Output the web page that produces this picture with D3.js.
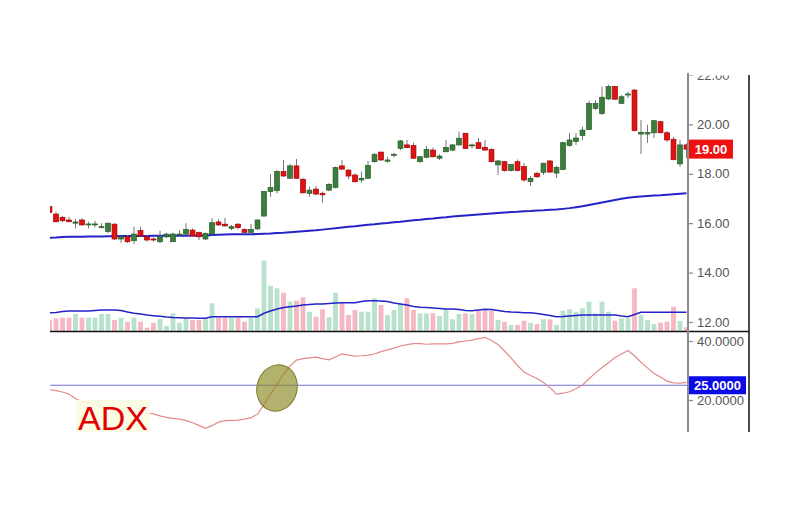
<!DOCTYPE html>
<html>
<head>
<meta charset="utf-8">
<script src="https://cdn.jsdelivr.net/npm/d3@7"></script>
<style>
  body { margin: 0; background: #fff; }
  svg { display: block; font-family: "Liberation Sans", Arial, sans-serif; }
</style>
</head>
<body>
<div id="chart"></div>
<script>
// daily candles (oldest first)
const opens = [16.67, 16.37, 16.24, 16.13, 16.00, 16.13, 15.94, 15.93, 15.83, 15.66,
    15.96, 15.36, 15.45, 15.29, 15.70, 15.45, 15.36, 15.25, 15.45, 15.25,
    15.52, 15.56, 15.72, 15.62, 15.36, 15.56, 16.05, 15.96, 15.79, 15.96,
    15.75, 15.63, 15.77, 16.29, 17.28, 17.32, 18.09, 17.82, 18.32, 17.78,
    17.21, 17.38, 17.21, 17.34, 17.45, 18.32, 18.15, 17.95, 17.75, 17.82,
    18.49, 18.88, 18.51, 18.76, 19.03, 19.17, 19.14, 18.49, 18.67, 18.96,
    18.63, 18.89, 18.96, 19.17, 19.64, 19.13, 19.26, 19.07, 18.99, 18.36,
    18.49, 18.13, 18.49, 18.29, 17.68, 18.02, 18.06, 18.52, 18.03, 18.18,
    19.15, 19.31, 19.55, 19.79, 20.65, 20.44, 21.03, 21.53, 20.85, 21.19,
    21.39, 19.61, 19.61, 19.66, 20.11, 19.66, 19.40, 18.40, 19.17];
const highs = [16.80, 16.47, 16.29, 16.26, 16.16, 16.20, 16.06, 16.10, 16.00, 16.02,
    16.00, 15.48, 15.52, 15.86, 15.86, 15.52, 15.43, 15.70, 15.62, 15.62,
    15.72, 16.00, 15.79, 15.66, 15.62, 16.20, 16.16, 16.21, 15.93, 16.00,
    15.79, 15.97, 16.16, 17.30, 17.99, 18.15, 18.56, 18.40, 18.60, 17.82,
    17.48, 17.51, 17.28, 17.62, 18.29, 18.56, 18.19, 18.02, 18.09, 18.52,
    18.83, 18.88, 18.69, 18.85, 19.37, 19.37, 19.26, 18.72, 19.13, 19.07,
    18.79, 19.37, 19.21, 19.70, 19.66, 19.23, 19.44, 19.37, 19.03, 18.56,
    18.52, 18.40, 18.58, 18.44, 17.91, 18.07, 18.44, 18.56, 18.32, 19.30,
    19.65, 19.65, 19.91, 20.96, 20.99, 21.53, 21.60, 21.55, 21.19, 21.32,
    21.43, 20.18, 19.98, 20.18, 20.14, 19.73, 19.49, 19.37, 19.23];
const lows = [16.37, 16.02, 16.04, 16.04, 15.79, 15.90, 15.79, 15.83, 15.79, 15.59,
    15.32, 15.21, 15.20, 15.16, 15.45, 15.25, 15.25, 15.19, 15.39, 15.25,
    15.48, 15.52, 15.45, 15.32, 15.32, 15.52, 15.89, 15.86, 15.72, 15.75,
    15.62, 15.62, 15.72, 16.26, 17.07, 17.21, 17.88, 17.79, 17.79, 17.21,
    17.07, 17.14, 16.83, 17.30, 17.41, 18.15, 17.78, 17.64, 17.64, 17.79,
    18.45, 18.52, 18.45, 18.67, 18.96, 19.04, 18.60, 18.45, 18.63, 18.67,
    18.56, 18.89, 18.92, 19.13, 19.00, 19.03, 19.00, 18.96, 18.47, 17.95,
    18.09, 18.09, 18.10, 17.67, 17.51, 17.83, 17.95, 18.05, 17.83, 18.15,
    19.09, 19.17, 19.37, 19.77, 20.58, 20.38, 20.99, 21.00, 20.83, 21.06,
    19.72, 18.80, 19.25, 19.45, 19.64, 19.29, 18.55, 18.28, 18.63];
const closes = [16.43, 16.06, 16.10, 16.06, 16.05, 15.93, 15.97, 15.97, 15.86, 16.00,
    15.36, 15.45, 15.25, 15.56, 15.48, 15.32, 15.32, 15.45, 15.56, 15.56,
    15.56, 15.75, 15.48, 15.45, 15.59, 16.02, 15.93, 15.89, 15.86, 15.82,
    15.63, 15.75, 16.13, 17.28, 17.44, 18.09, 17.91, 18.32, 17.82, 17.23,
    17.34, 17.18, 17.15, 17.57, 18.25, 18.19, 17.91, 17.68, 17.82, 18.33,
    18.79, 18.56, 18.56, 18.79, 19.33, 19.06, 18.63, 18.69, 18.99, 18.69,
    18.72, 19.07, 19.17, 19.44, 19.03, 19.17, 19.03, 18.96, 18.49, 18.52,
    18.13, 18.38, 18.13, 17.75, 17.82, 17.88, 18.43, 18.07, 18.26, 19.26,
    19.37, 19.45, 19.77, 20.85, 20.85, 21.10, 21.53, 21.02, 21.12, 21.23,
    19.75, 19.68, 19.68, 20.15, 19.66, 19.37, 18.57, 19.17, 19.00];

// long moving average of price
const priceMA = [15.41, 15.42, 15.44, 15.45, 15.45, 15.45, 15.46, 15.46, 15.46, 15.47,
    15.47, 15.48, 15.48, 15.48, 15.48, 15.48, 15.49, 15.49, 15.49, 15.49,
    15.49, 15.49, 15.50, 15.50, 15.50, 15.52, 15.53, 15.54, 15.55, 15.55,
    15.55, 15.55, 15.56, 15.57, 15.58, 15.60, 15.61, 15.63, 15.65, 15.67,
    15.69, 15.71, 15.74, 15.77, 15.80, 15.83, 15.86, 15.88, 15.91, 15.94,
    15.96, 15.99, 16.01, 16.04, 16.06, 16.09, 16.12, 16.14, 16.17, 16.19,
    16.22, 16.24, 16.27, 16.29, 16.31, 16.33, 16.35, 16.37, 16.39, 16.41,
    16.43, 16.45, 16.46, 16.48, 16.49, 16.51, 16.52, 16.54, 16.55, 16.58,
    16.61, 16.65, 16.69, 16.74, 16.79, 16.84, 16.89, 16.94, 16.99, 17.03,
    17.06, 17.08, 17.10, 17.12, 17.13, 17.15, 17.17, 17.19, 17.21];

// volume (thousands) and its moving average
const volumes = [575, 660, 690, 690, 875, 690, 690, 690, 875, 875,
    575, 690, 490, 690, 490, 190, 440, 625, 275, 910,
    440, 690, 575, 575, 660, 1410, 690, 690, 690, 690,
    490, 690, 1160, 3540, 2290, 2160, 1940, 1490, 1540, 1710,
    990, 740, 1110, 710, 1940, 1440, 825, 1075, 990, 990,
    1660, 1325, 825, 1075, 1375, 1660, 1075, 910, 910, 910,
    775, 1110, 610, 875, 910, 875, 1075, 1110, 1040, 575,
    490, 325, 325, 540, 440, 375, 610, 610, 325, 1040,
    1110, 990, 1160, 1490, 910, 1490, 990, 540, 660, 660,
    2160, 825, 575, 375, 440, 490, 1240, 525, 210];
const volumeMA = [940, 950, 1000, 1025, 1025, 1025, 1025, 1050, 1075, 1075,
    1075, 1050, 975, 910, 875, 825, 790, 760, 725, 700,
    690, 675, 675, 660, 660, 740, 740, 740, 740, 740,
    740, 740, 740, 910, 1025, 1125, 1200, 1240, 1275, 1325,
    1350, 1375, 1375, 1400, 1425, 1440, 1440, 1440, 1500, 1540,
    1540, 1525, 1500, 1425, 1375, 1325, 1250, 1210, 1200, 1175,
    1150, 1125, 1125, 1100, 1050, 1040, 1075, 1110, 1100, 1050,
    1000, 975, 960, 940, 940, 900, 850, 800, 740, 750,
    775, 800, 825, 825, 825, 825, 825, 825, 775, 740,
    850, 960, 960, 960, 960, 960, 960, 960, 960];

// ADX indicator
const adx = [23.5, 23.2, 22.7, 22.0, 20.4, 19.5, 18.9, 18.3, 17.8, 17.3,
    16.9, 16.6, 16.3, 16.0, 15.8, 15.6, 15.3, 14.6, 14.1, 13.8,
    13.5, 13.0, 12.3, 11.4, 10.4, 11.3, 12.5, 13.0, 13.1, 13.2,
    13.5, 14.0, 15.2, 18.5, 22.0, 25.2, 28.8, 31.5, 33.5, 34.0,
    34.3, 34.5, 34.0, 33.6, 34.6, 35.6, 35.2, 34.9, 35.0, 35.2,
    35.6, 36.4, 37.0, 37.6, 38.3, 38.8, 39.1, 39.1, 38.9, 39.0,
    39.0, 39.0, 39.2, 39.7, 40.0, 40.3, 40.8, 41.2, 40.2, 38.8,
    36.6, 34.3, 31.7, 29.5, 28.3, 27.3, 25.9, 24.2, 22.0, 22.3,
    22.8, 23.8, 25.1, 27.2, 29.2, 31.0, 32.6, 34.4, 35.6, 36.8,
    35.0, 32.8, 30.9, 29.0, 27.8, 26.4, 25.8, 25.7, 26.0];

const priceTicks = [12, 14, 16, 18, 20, 22];
const adxTicks = [20, 40];
const adxLevel = 25;

const width = 800, height = 507;
const plot = { left: 50, right: 688, top: 73, split: 331.5, bottom: 432, frame: 749 };

const svg = d3.select("#chart").append("svg")
    .attr("width", width)
    .attr("height", height);

const defs = svg.append("defs");
defs.append("clipPath").attr("id", "clipPrice").append("rect")
    .attr("x", plot.left).attr("y", plot.top)
    .attr("width", plot.right + 1 - plot.left).attr("height", plot.split - plot.top);
defs.append("clipPath").attr("id", "clipAdx").append("rect")
    .attr("x", plot.left).attr("y", plot.split)
    .attr("width", plot.right - plot.left).attr("height", plot.bottom - plot.split);
// the screenshot cuts the top tick label in half
defs.append("clipPath").attr("id", "clipAxis").append("rect")
    .attr("x", plot.right - 2).attr("y", 75.5)
    .attr("width", 70).attr("height", plot.bottom - 75.5);

const idx = d3.range(closes.length);
const x = d3.scaleBand()
    .domain(idx)
    .range([46.25, 689.75])
    .paddingInner(0.25)
    .paddingOuter(0.125);
const cx = i => x(i) + x.bandwidth() / 2;

const y = d3.scaleLinear().domain([12, 22]).range([322, 75]);
const yVol = d3.scaleLinear().domain([0, 4000]).range([plot.split, plot.split - 80]);
const yAdx = d3.scaleLinear().domain([20, 40]).range([400, 341]);

const up = i => closes[i] >= opens[i];

// price panel
const pricePanel = svg.append("g").attr("clip-path", "url(#clipPrice)");

pricePanel.selectAll(".vol")
    .data(idx)
    .enter().append("rect")
    .attr("class", "vol")
    .attr("x", i => x(i))
    .attr("y", i => yVol(volumes[i]))
    .attr("width", x.bandwidth())
    .attr("height", i => yVol(0) - yVol(volumes[i]))
    .attr("fill", i => up(i) ? "#b9e2cd" : "#f6b9c4");

pricePanel.append("path")
    .datum(volumeMA)
    .attr("fill", "none")
    .attr("stroke", "#2323c8")
    .attr("stroke-width", 1.6)
    .attr("d", d3.line().x((d, i) => cx(i)).y(d => yVol(d)));

pricePanel.append("path")
    .datum(priceMA)
    .attr("fill", "none")
    .attr("stroke", "#2323c8")
    .attr("stroke-width", 2)
    .attr("d", d3.line().x((d, i) => cx(i)).y(d => y(d)));

const candles = pricePanel.selectAll(".candle")
    .data(idx)
    .enter().append("g")
    .attr("class", "candle");

candles.append("line")
    .attr("x1", i => cx(i))
    .attr("x2", i => cx(i))
    .attr("y1", i => y(highs[i]))
    .attr("y2", i => y(lows[i]))
    .attr("stroke", "#777")
    .attr("stroke-width", 1);

candles.append("rect")
    .attr("x", i => x(i))
    .attr("y", i => y(Math.max(opens[i], closes[i])))
    .attr("width", x.bandwidth())
    .attr("height", i => Math.max(1, Math.abs(y(opens[i]) - y(closes[i]))))
    .attr("fill", i => up(i) ? "#3b7d3b" : "#e31212")
    .attr("stroke", i => up(i) ? "#2a5a2a" : "#a30000")
    .attr("stroke-width", 0.7);

// ADX panel
const adxPanel = svg.append("g").attr("clip-path", "url(#clipAdx)");

adxPanel.append("line")
    .attr("x1", plot.left).attr("x2", plot.right)
    .attr("y1", yAdx(adxLevel)).attr("y2", yAdx(adxLevel))
    .attr("stroke", "#7272dc")
    .attr("stroke-width", 1.2);

adxPanel.append("path")
    .datum(adx)
    .attr("fill", "none")
    .attr("stroke", "#e58a8a")
    .attr("stroke-width", 1.2)
    .attr("d", d3.line().x((d, i) => cx(i)).y(d => yAdx(d)));

// highlight where ADX crosses 25
adxPanel.append("ellipse")
    .attr("transform", `translate(${cx(35)},388) rotate(16)`)
    .attr("rx", 20)
    .attr("ry", 23.5)
    .attr("fill", "#8a8720")
    .attr("fill-opacity", 0.65)
    .attr("stroke", "#7d7a2a")
    .attr("stroke-width", 1);

adxPanel.append("rect")
    .attr("x", 76).attr("y", 400)
    .attr("width", 74).attr("height", 32)
    .attr("fill", "#fcfbe2")
    .attr("fill-opacity", 0.9);
adxPanel.append("text")
    .attr("x", 78).attr("y", 430)
    .attr("font-size", 34)
    .attr("fill", "#e00000")
    .text("ADX");

// frame lines
svg.append("line")
    .attr("x1", plot.left).attr("x2", plot.frame)
    .attr("y1", plot.split).attr("y2", plot.split)
    .attr("stroke", "#111").attr("stroke-width", 1.5);
svg.append("line")
    .attr("x1", plot.frame).attr("x2", plot.frame)
    .attr("y1", 75).attr("y2", plot.bottom)
    .attr("stroke", "#111").attr("stroke-width", 1.5);
svg.append("line")
    .attr("x1", plot.right).attr("x2", plot.right)
    .attr("y1", plot.top).attr("y2", plot.bottom)
    .attr("stroke", "#8c8c8c").attr("stroke-width", 2);

// axes
const axisG = svg.append("g").attr("clip-path", "url(#clipAxis)");

function styleAxis(g) {
    g.select(".domain").remove();
    g.selectAll(".tick line").attr("stroke", "#8c8c8c").attr("stroke-width", 1.2);
    g.selectAll(".tick text")
        .attr("fill", "#555")
        .attr("font-size", 13)
        .attr("font-family", "'Liberation Sans', Arial, sans-serif");
}

axisG.append("g")
    .attr("transform", `translate(${plot.right},0)`)
    .call(d3.axisRight(y).tickValues(priceTicks).tickFormat(d3.format(".2f")).tickSize(5).tickPadding(4))
    .call(styleAxis);

axisG.append("g")
    .attr("transform", `translate(${plot.right},0)`)
    .call(d3.axisRight(yAdx).tickValues(adxTicks).tickFormat(d3.format(".4f")).tickSize(5).tickPadding(4))
    .call(styleAxis);

// last value markers
const lastClose = closes[closes.length - 1];
axisG.append("rect")
    .attr("x", 689).attr("y", y(lastClose) - 9.5)
    .attr("width", 44).attr("height", 19)
    .attr("fill", "#ee1111");
axisG.append("text")
    .attr("x", 711).attr("y", y(lastClose))
    .attr("dy", "0.36em")
    .attr("text-anchor", "middle")
    .attr("fill", "#fff")
    .attr("font-size", 13)
    .attr("font-weight", "bold")
    .text(d3.format(".2f")(lastClose));

axisG.append("rect")
    .attr("x", 689).attr("y", yAdx(adxLevel) - 9)
    .attr("width", 57).attr("height", 18)
    .attr("fill", "#0b0be6");
axisG.append("text")
    .attr("x", 717.5).attr("y", yAdx(adxLevel))
    .attr("dy", "0.36em")
    .attr("text-anchor", "middle")
    .attr("fill", "#fff")
    .attr("font-size", 13)
    .attr("font-weight", "bold")
    .text(d3.format(".4f")(adxLevel));
</script>
</body>
</html>
